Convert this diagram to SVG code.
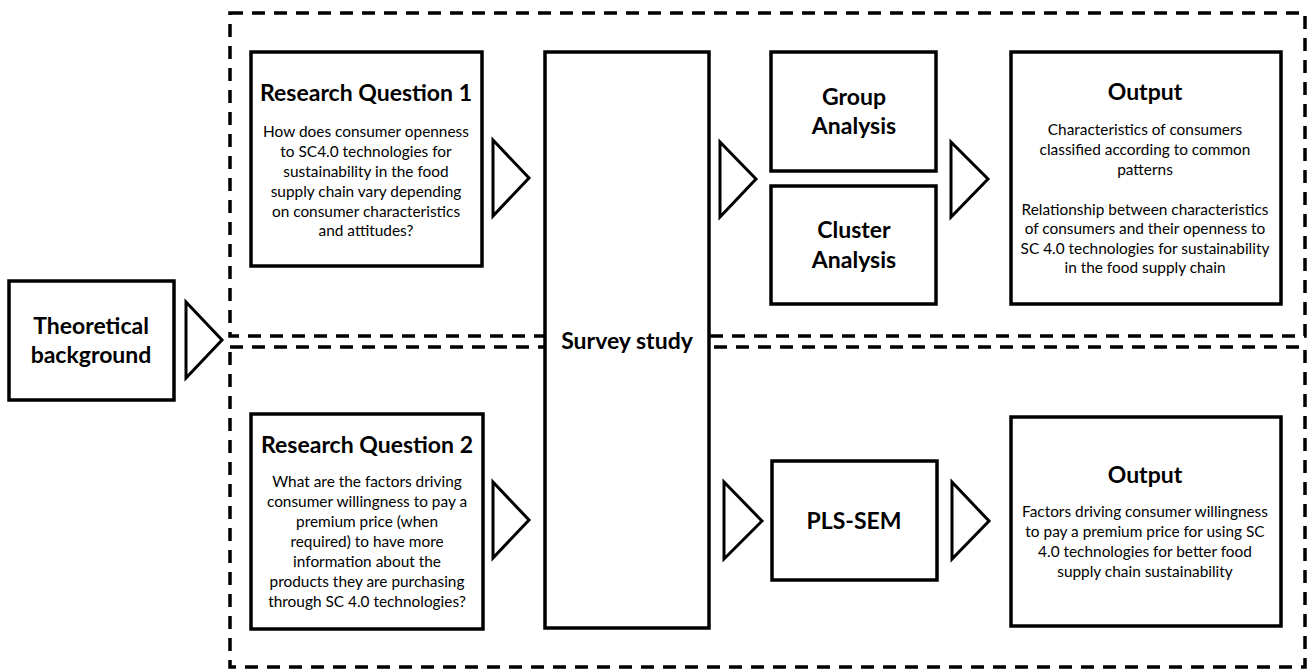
<svg xmlns="http://www.w3.org/2000/svg" width="1308" height="672" viewBox="0 0 1308 672">
<style>
.box{fill:#fff;stroke:#000;stroke-width:3.5}
.dash{fill:none;stroke:#000;stroke-width:3.5;stroke-dasharray:13 9}
.tri{fill:#fff;stroke:#000;stroke-width:3;stroke-linejoin:miter}
.h{font-family:Lato,"Liberation Sans",sans-serif;font-weight:bold;font-size:23px;text-anchor:middle;fill:#000}
.t{font-family:Lato,"Liberation Sans",sans-serif;font-size:15.4px;text-anchor:middle;fill:#000}
</style>
<rect width="1308" height="672" fill="#fff"/>
<g id="containers">
<rect class="dash" x="230" y="13" width="1075" height="323"/>
<rect class="dash" x="230" y="347" width="1075" height="320"/>
</g>
<g id="connectors">
<polygon class="tri" points="186,302 222,340 186,378"/>
<polygon class="tri" points="493,140 529,178 493,216"/>
<polygon class="tri" points="493,482 529,520 493,558"/>
<polygon class="tri" points="720,142 756,179 720,217"/>
<polygon class="tri" points="951,142 988,179 951,217"/>
<polygon class="tri" points="724,482 762,521 724,559"/>
<polygon class="tri" points="952,482 989,521 952,559"/>
</g>
<g id="theoretical">
<rect class="box" x="9" y="281" width="165" height="119"/>
<text class="h" x="91" y="334">Theoretical</text>
<text class="h" x="91" y="363">background</text>
</g>
<g id="rq1">
<rect class="box" x="251" y="52" width="231" height="214"/>
<text class="h" x="366" y="101">Research Question 1</text>
<text class="t" x="366" y="137">How does consumer openness</text>
<text class="t" x="366" y="157">to SC4.0 technologies for</text>
<text class="t" x="366" y="177">sustainability in the food</text>
<text class="t" x="366" y="197">supply chain vary depending</text>
<text class="t" x="366" y="217">on consumer characteristics</text>
<text class="t" x="366" y="236">and attitudes?</text>
</g>
<g id="rq2">
<rect class="box" x="251" y="414" width="232" height="215"/>
<text class="h" x="367" y="453">Research Question 2</text>
<text class="t" x="367" y="487">What are the factors driving</text>
<text class="t" x="367" y="507">consumer willingness to pay a</text>
<text class="t" x="367" y="527">premium price (when</text>
<text class="t" x="367" y="547">required) to have more</text>
<text class="t" x="367" y="567">information about the</text>
<text class="t" x="367" y="587">products they are purchasing</text>
<text class="t" x="367" y="607">through SC 4.0 technologies?</text>
</g>
<g id="survey">
<rect class="box" x="545" y="52" width="164" height="576"/>
<text class="h" x="627" y="349">Survey study</text>
</g>
<g id="group">
<rect class="box" x="771" y="52" width="165" height="119"/>
<text class="h" x="854" y="105">Group</text>
<text class="h" x="854" y="134">Analysis</text>
</g>
<g id="cluster">
<rect class="box" x="771" y="186" width="165" height="118"/>
<text class="h" x="854" y="238">Cluster</text>
<text class="h" x="854" y="268">Analysis</text>
</g>
<g id="output1">
<rect class="box" x="1011" y="52" width="270" height="252"/>
<text class="h" x="1145" y="100">Output</text>
<text class="t" x="1145" y="135">Characteristics of consumers</text>
<text class="t" x="1145" y="155">classified according to common</text>
<text class="t" x="1145" y="175">patterns</text>
<text class="t" x="1145" y="215">Relationship between characteristics</text>
<text class="t" x="1145" y="234">of consumers and their openness to</text>
<text class="t" x="1145" y="254">SC 4.0 technologies for sustainability</text>
<text class="t" x="1145" y="273">in the food supply chain</text>
</g>
<g id="plssem">
<rect class="box" x="772" y="461" width="165" height="119"/>
<text class="h" x="854" y="529">PLS-SEM</text>
</g>
<g id="output2">
<rect class="box" x="1011" y="417" width="270" height="209"/>
<text class="h" x="1145" y="483">Output</text>
<text class="t" x="1145" y="517">Factors driving consumer willingness</text>
<text class="t" x="1145" y="537">to pay a premium price for using SC</text>
<text class="t" x="1145" y="557">4.0 technologies for better food</text>
<text class="t" x="1145" y="577">supply chain sustainability</text>
</g>
</svg>
